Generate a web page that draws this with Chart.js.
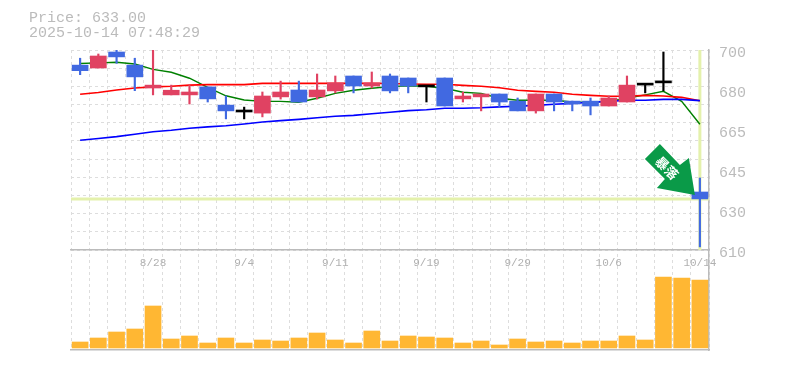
<!DOCTYPE html>
<html>
<head>
<meta charset="utf-8">
<title>Price chart</title>
<script src="https://cdn.jsdelivr.net/npm/chart.js@4/dist/chart.umd.min.js"></script>
<style>
  html, body { margin: 0; background: #fff; }
  #wrap { position: relative; width: 785px; height: 370px; }
  #head { position: absolute; left: 29px; top: 11px; font: 15px/15px "Liberation Mono", monospace; color: #bbb; white-space: pre; }
  canvas { display: block; }
</style>
</head>
<body>
<div id="wrap">
  <div id="head">Price: 633.00
2025-10-14 07:48:29</div>
  <canvas id="priceChart" width="785" height="370"></canvas>
</div>
<script>
const dates = ["8/22","8/25","8/26","8/27","8/28","8/29","9/1","9/2","9/3","9/4","9/5","9/8","9/9","9/10","9/11","9/12","9/16","9/17","9/18","9/19","9/22","9/24","9/25","9/26","9/29","9/30","10/1","10/2","10/3","10/6","10/7","10/8","10/9","10/10","10/14"];

const opens  = [693.2,691.9,699.1,693.2,682.9,679.8,679.8,683.4,675.2,672.1,671.6,678.9,682,678.9,681.6,688.3,683.8,688.3,687.4,683.4,687.4,678,678.9,680.2,677,672.6,680.2,677,677,674.8,676.6,684.2,685.2,null,636.1];
const closes = [690.7,697.3,696.9,687.9,684.2,681.9,681.1,678,672.6,672.1,679.3,681.1,676.6,682,685.2,683.8,685.2,681.6,683.8,683.4,674.8,679.3,680.2,676.6,672.6,680.2,676.6,675.7,674.8,678.4,684.2,684.2,685.2,null,633];
const highs  = [696.3,698.2,700,696.3,700,684.2,684.2,683.4,679.3,674.3,681.1,686,686,689.2,688.3,688.3,690.1,689.2,687.4,683.4,687.4,681.1,680.2,680.2,678.4,680.2,680.2,677,678.4,679.3,688.3,684.2,699.1,null,642.4];
const lows   = [688.9,691.9,694,681.7,679.8,679.8,675.7,676.6,669,669,669.9,677.9,676.6,677.9,680.7,680.7,682.9,680.7,680.7,676.6,674.8,676.6,672.6,674.3,672.6,671.6,672.6,672.6,670.8,674.8,676.6,680.7,681.6,null,611.4];

const ma5  = [693.9,694.2,694.5,693.7,691.3,690,687.3,683.2,679.4,677.5,676.9,676.9,676.5,678.3,680.5,681.9,682.8,683.5,683.9,683.7,682.8,681,680.5,678.3,677.4,677.4,677.4,676.6,676.5,676.9,678.3,679.8,681.4,676.9,666.6];
const ma25 = [680.1,680.9,682,682.9,683.4,683.7,684.2,684.4,684.4,684.4,685,685,685,685,685,685,685,684.9,684.7,684.6,684.6,684.1,683.7,683,681.9,681.4,681,680.1,679.6,679.2,679.2,679.6,679.3,678.7,677.2];
const ma75 = [659.4,660.2,661,662.1,663.2,663.9,664.8,665.4,665.9,666.7,667.6,668.2,668.8,669.5,670.2,670.6,671.3,672,672.7,673.1,673.8,673.8,674,674.4,674.7,675.1,675.6,676,676.5,676.9,677.4,677.4,677.8,677.8,677.2];

const volumes = [6,10,16,19,42,9,12,5,10,5,8,7,10,15,8,5,17,7,12,11,10,5,7,3,9,6,7,5,7,7,12,8,71,70,68];

const priceTicks = [610,628,646,664,682,700];
const priceLabels = ["610","630","645","665","680","700"];
const gridRows = [0,1,2,3,4,5,6,7,8,9,10,11];

const GREY = "#bbbbbb";
const GRID = "#dddddd";
const UP = "#e04262";
const DOWN = "#4169e1";
const last = dates.length - 1;

const bodyColors = opens.map((o, i) => closes[i] > o ? UP : closes[i] < o ? DOWN : "#000000");
const bodies = opens.map((o, i) => o === null ? null : [o, closes[i]]);
const wicks = lows.map((l, i) => l === null ? null : [l, highs[i]]);

// current price crosshair, sits behind the candles
const crosshair = {
  id: "crosshair",
  beforeDatasetsDraw(chart) {
    const { ctx, chartArea, scales } = chart;
    const x = scales.x.getPixelForValue(last);
    const y = scales.yPrice.getPixelForValue(closes[last]);
    ctx.save();
    ctx.strokeStyle = "#e4f1ac";
    ctx.lineWidth = 3;
    ctx.beginPath();
    ctx.moveTo(chartArea.left, y);
    ctx.lineTo(chartArea.right, y);
    ctx.moveTo(x, chartArea.top);
    ctx.lineTo(x, scales.yPrice.getPixelForValue(610));
    ctx.stroke();
    ctx.restore();
  }
};

// green marker pointing at the last candle
const marker = {
  id: "marker",
  afterDatasetsDraw(chart) {
    const { ctx, scales } = chart;
    const x = scales.x.getPixelForValue(last) - 5;
    const y = scales.yPrice.getPixelForValue(closes[last]) - 4;
    ctx.save();
    ctx.translate(x, y);
    ctx.fillStyle = "#0a9a48";
    ctx.beginPath();
    ctx.moveTo(-35, -51);
    ctx.lineTo(-50, -36);
    ctx.lineTo(-30, -16);
    ctx.lineTo(-38, -7);
    ctx.lineTo(0, 0);
    ctx.lineTo(-6, -37);
    ctx.lineTo(-15, -30);
    ctx.closePath();
    ctx.fill();
    ctx.translate(-28, -27);
    ctx.rotate(Math.PI / 4);
    ctx.fillStyle = "#ffffff";
    ctx.font = "bold 13px 'Noto Sans CJK JP'";
    ctx.textAlign = "center";
    ctx.textBaseline = "middle";
    ctx.fillText("暴落", 0, 0);
    ctx.restore();
  }
};

new Chart(document.getElementById("priceChart"), {
  data: {
    labels: dates,
    datasets: [
      { type: "line", data: ma75, yAxisID: "yPrice", borderColor: "#0000ff", borderWidth: 1.6, pointRadius: 0, tension: 0, order: 3 },
      { type: "line", data: ma25, yAxisID: "yPrice", borderColor: "#ff0000", borderWidth: 1.6, pointRadius: 0, tension: 0, order: 4 },
      { type: "line", data: ma5, yAxisID: "yPrice", borderColor: "#008000", borderWidth: 1.4, pointRadius: 0, tension: 0, order: 5 },
      { type: "bar", data: wicks, yAxisID: "yPrice", backgroundColor: bodyColors, barThickness: 1.5, grouped: false, order: 2 },
      { type: "bar", data: bodies, yAxisID: "yPrice", backgroundColor: bodyColors, barThickness: 16, minBarLength: 2, grouped: false, order: 1 },
      { type: "bar", data: volumes, yAxisID: "yVol", backgroundColor: "#ffb733", barThickness: 16, grouped: false, order: 6 }
    ]
  },
  options: {
    responsive: false,
    animation: false,
    layout: { padding: { left: 71, top: 50, right: 0, bottom: 20 } },
    plugins: { legend: { display: false }, tooltip: { enabled: false } },
    scales: {
      x: {
        type: "category",
        offset: true,
        position: { yPrice: 610 },
        grid: { color: GRID, drawTicks: false },
        border: { color: GREY, width: 1.5, dash: [3, 3] },
        ticks: {
          autoSkip: false,
          maxRotation: 0,
          padding: 6,
          color: "#b0b0b0",
          font: { family: "Liberation Mono", size: 11 },
          callback(v, i) { return i % 5 === 4 ? dates[i] : ""; }
        }
      },
      xBottom: {
        type: "category",
        labels: dates,
        position: "bottom",
        grid: { display: false, drawTicks: false },
        border: { color: GREY, width: 1.5 },
        ticks: { display: false },
        afterFit(scale) { scale.height = 0; }
      },
      yPrice: {
        position: "right",
        min: 565,
        max: 700,
        grid: { display: false, drawTicks: false },
        border: { color: GREY, width: 1.5 },
        afterBuildTicks(scale) { scale.ticks = priceTicks.map(value => ({ value })); },
        afterFit(scale) { scale.width = 76; },
        ticks: {
          padding: 10,
          labelOffset: 3,
          color: GREY,
          font: { family: "Liberation Mono", size: 15 },
          callback(v, i) { return priceLabels[i]; }
        }
      },
      yGrid: {
        position: "left",
        min: -5.5,
        max: 11,
        afterBuildTicks(scale) { scale.ticks = gridRows.map(value => ({ value })); },
        grid: { color: GRID, drawTicks: false },
        border: { display: false, dash: [3, 3] },
        ticks: { display: false },
        afterFit(scale) { scale.width = 0; }
      },
      yVol: { display: false, min: -2, max: 298 }
    }
  },
  plugins: [crosshair, marker]
});
</script>
</body>
</html>
